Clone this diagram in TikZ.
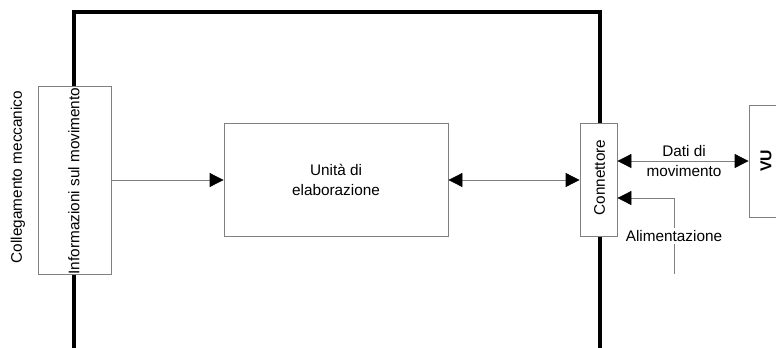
\documentclass[tikz,border=0pt]{standalone}
\usepackage{fontspec}
\setmainfont{Liberation Sans}
\usetikzlibrary{arrows.meta}

\tikzset{
    blk/.style={draw=gray,fill=white,line width=0.6pt,inner sep=0pt},
    lbl/.style={font=\fontsize{11.5}{15}\selectfont,align=center,inner sep=1pt},
    wire/.style={draw=gray,line width=0.6pt},
    tip/.style={-{Triangle[length=10.5pt,width=10.5pt,color=black,fill=black]}},
    tips/.style={{Triangle[length=10.5pt,width=10.5pt,color=black,fill=black]}-{Triangle[length=10.5pt,width=10.5pt,color=black,fill=black]}},
    frame/.style={draw=black,line width=2.8pt}
}

\begin{document}
\begin{tikzpicture}[x=0.75pt,y=-0.75pt]
                \clip (0,0) rectangle (776,347);

                \draw[frame] (74,350) -- (74,12) -- (600,12) -- (600,350);

                \node[blk,minimum width=54.75pt,minimum height=141pt] (info) at (74.5,180) {};
                \node[blk,minimum width=168pt,minimum height=84.75pt] (unita) at (336,180) {};
                \node[blk,minimum width=27.75pt,minimum height=84.75pt] (conn) at (598.5,180) {};
                \node[blk,minimum width=25.5pt,minimum height=84pt] (vu) at (766,161) {};

                \node[lbl,rotate=90] (infotext) at (74,181) {Informazioni sul movimento};
                \node[lbl] (unitatext) at (unita) {Unità di\\elaborazione};
                \node[lbl,rotate=90] (conntext) at (599.5,177.5) {Connettore};
                \node[lbl,rotate=90,font=\fontsize{11.8}{15}\selectfont\bfseries] (vutext) at (vu) {VU};
                \node[lbl,rotate=90] (mecc) at (18,177) {Collegamento meccanico};
                \node[lbl] (dati) at (684,161) {Dati di\\movimento};

                \coordinate (alifoot) at (674,274);
                \coordinate (alibend) at (674,198);

                \draw[wire,tip] (info) -- (unita);
                \draw[wire,tips] (unita) -- (conn);
                \draw[wire,tips] (conn.east |- vu) -- (vu.west);
                \draw[wire,tip] (alifoot) -- node[lbl,fill=white,inner sep=2pt] (ali) {Alimentazione} (alibend) -- (alibend -| conn.east);
\end{tikzpicture}
\end{document}
